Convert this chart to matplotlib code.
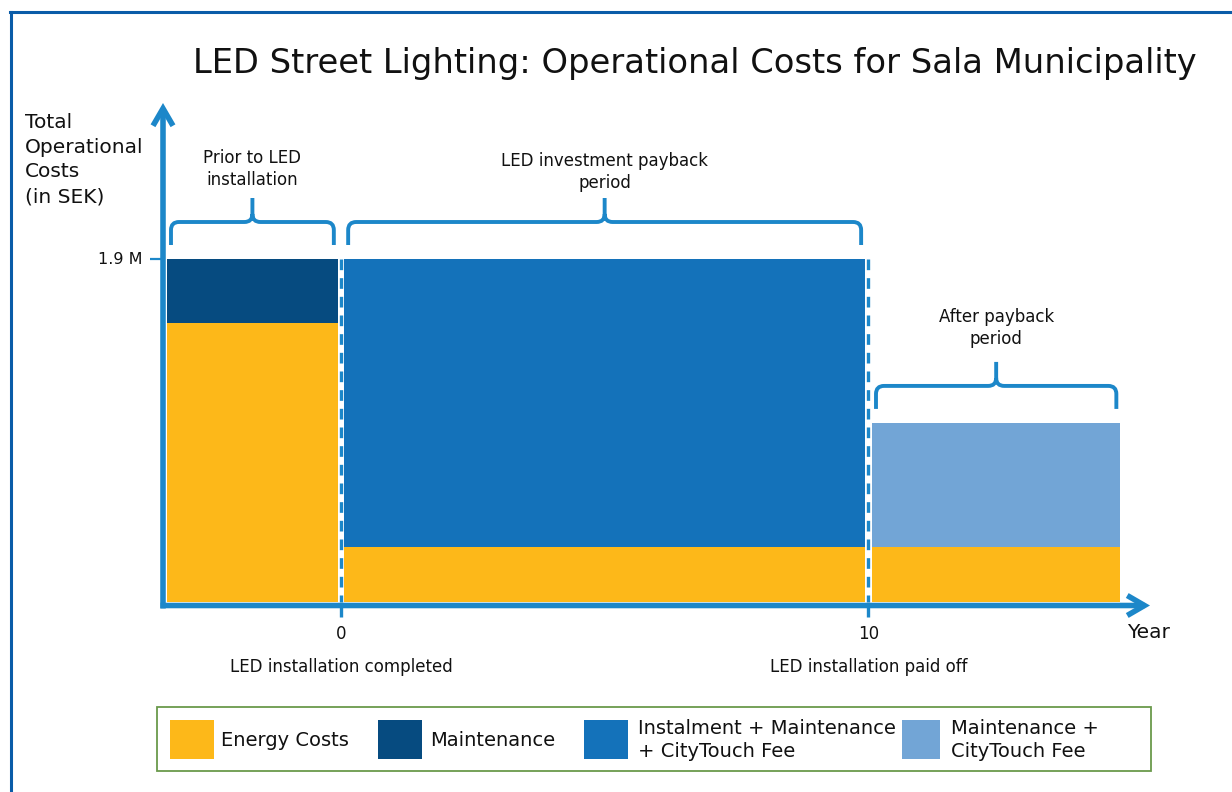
import matplotlib
matplotlib.use("Agg")
import matplotlib.pyplot as plt
import matplotlib.transforms as mtransforms
from matplotlib.path import Path
from matplotlib.patches import PathPatch, Rectangle
from matplotlib.lines import Line2D

# ---------------- data ----------------
periods = ["Prior to LED\ninstallation", "LED investment payback\nperiod", "After payback\nperiod"]
period_start = [-3.30, 0.06, 10.07]   # years
period_end = [-0.06, 9.94, 14.78]     # years
energy_costs = [1.546, 0.305, 0.305]  # M SEK
other_costs = [0.354, 1.595, 0.687]   # M SEK
milestone_years = [0, 10]
milestone_labels = ["LED installation completed", "LED installation paid off"]
ytick_value = 1.9
ytick_label = "1.9 M"
legend_labels = ["Energy Costs", "Maintenance",
                 "Instalment + Maintenance\n+ CityTouch Fee", "Maintenance +\nCityTouch Fee"]

# ---------------- style ----------------
ENERGY = "#FDB819"
MAINT = "#064B80"
INSTAL = "#1472BA"
AFTER = "#72A5D6"
AXBLUE = "#1C87C9"
BORDER = "#0A5CA8"
LEGEDGE = "#6A9A4B"
TXT = "#111111"
other_colors = [MAINT, INSTAL, AFTER]
legend_colors = [ENERGY, MAINT, INSTAL, AFTER]

plt.rcParams["font.family"] = ["DejaVu Sans"]

W, H, DPI = 1232, 792, 100
fig = plt.figure(figsize=(W / DPI, H / DPI), dpi=DPI)
ax = fig.add_axes([0, 0, 1, 1])

# pixel calibration of the data scale
X0_PX, X10_PX = 341.0, 868.3
Y0_PX, YTOP_PX = 602.0, 259.0
ppy = (X10_PX - X0_PX) / 10.0
ppm = (Y0_PX - YTOP_PX) / ytick_value
ax.set_xlim(-X0_PX / ppy, (W - X0_PX) / ppy)
ax.set_ylim((Y0_PX - H) / ppm, Y0_PX / ppm)
ax.axis("off")

# figure-pixel transform (origin top-left)
pxT = mtransforms.Affine2D().scale(1 / W, -1 / H).translate(0, 1) + fig.transFigure

# ---------------- bars ----------------
widths = [e - s for s, e in zip(period_start, period_end)]
ax.bar(period_start, energy_costs, width=widths, align="edge", color=ENERGY, zorder=2, linewidth=0)
ax.bar(period_start, other_costs, width=widths, bottom=energy_costs, align="edge",
       color=other_colors, zorder=2, linewidth=0)

# ---------------- axes with arrows ----------------
x_axis_x = (163 - X0_PX) / ppy
x_axis_y = -3.5 / ppm
x_tip = (1150 - X0_PX) / ppy
y_tip = (Y0_PX - 103) / ppm
arrowstyle = "->,head_length=0.62,head_width=0.36"
ax.annotate("", xy=(x_tip, x_axis_y), xytext=(x_axis_x - 2.5 / ppy, x_axis_y),
            arrowprops=dict(arrowstyle=arrowstyle, lw=4.0, color=AXBLUE, shrinkA=0, shrinkB=0,
                            mutation_scale=20, joinstyle="miter", capstyle="butt"), zorder=5)
ax.annotate("", xy=(x_axis_x, y_tip), xytext=(x_axis_x, x_axis_y - 3 / ppm),
            arrowprops=dict(arrowstyle=arrowstyle, lw=4.0, color=AXBLUE, shrinkA=0, shrinkB=0,
                            mutation_scale=20, joinstyle="miter", capstyle="butt"), zorder=5)

# y tick
ax.plot([x_axis_x - 13 / ppy, x_axis_x], [ytick_value, ytick_value], color=AXBLUE, lw=1.6,
        solid_capstyle="butt", zorder=4)
ax.annotate(ytick_label, xy=(x_axis_x, ytick_value), xytext=(-15, 0), textcoords="offset points",
            ha="right", va="center", fontsize=11.5, color=TXT)

# milestones: dashed separators, ticks and labels
for yr, lab in zip(milestone_years, milestone_labels):
    ax.plot([yr, yr], [ytick_value, 0], color=AXBLUE, lw=2.4, ls=(0, (3.2, 2.4)), zorder=4,
            solid_capstyle="butt", dash_capstyle="butt")
    ax.plot([yr, yr], [x_axis_y, x_axis_y - 11 / ppm], color=AXBLUE, lw=2.4,
            solid_capstyle="butt", zorder=4)
    ax.text(yr, (Y0_PX - 634) / ppm, str(yr), ha="center", va="center", fontsize=12, color=TXT)
    ax.text(yr, (Y0_PX - 667) / ppm, lab, ha="center", va="center", fontsize=12, color=TXT)

ax.text((1127 - X0_PX) / ppy, (Y0_PX - 633) / ppm, "Year", ha="left", va="center",
        fontsize=14.5, color=TXT)

# ---------------- curly brackets ----------------
label_pad_px = [9, 6, 14]
for s, e, tot_e, tot_o, lab, pad in zip(period_start, period_end, energy_costs, other_costs,
                                        periods, label_pad_px):
    top = tot_e + tot_o
    inset = 4 / ppy
    x0, x1 = s + inset, e - inset
    xc = (x0 + x1) / 2
    y_end = top + 14 / ppm
    y_h = top + 37 / ppm
    y_s = top + 61 / ppm
    rx, ry = 8 / ppy, 8 / ppm
    verts = [(x0, y_end), (x0, y_h - ry), (x0, y_h), (x0 + rx, y_h),
             (xc - rx, y_h), (xc, y_h), (xc, y_h + ry), (xc, y_s),
             (xc, y_h + ry), (xc, y_h), (xc + rx, y_h),
             (x1 - rx, y_h), (x1, y_h), (x1, y_h - ry), (x1, y_end)]
    codes = [Path.MOVETO, Path.LINETO, Path.CURVE3, Path.CURVE3,
             Path.LINETO, Path.CURVE3, Path.CURVE3, Path.LINETO,
             Path.MOVETO, Path.CURVE3, Path.CURVE3,
             Path.LINETO, Path.CURVE3, Path.CURVE3, Path.LINETO]
    ax.add_patch(PathPatch(Path(verts, codes), fill=False, edgecolor=AXBLUE, lw=2.8,
                           capstyle="butt", joinstyle="round", zorder=4))
    ax.annotate(lab, xy=(xc, y_s), xytext=(0, pad / 1.389), textcoords="offset points",
                ha="center", va="bottom", fontsize=12, color=TXT, linespacing=1.3)

# ---------------- titles ----------------
fig.text(695 / W, 1 - 63 / H, "LED Street Lighting: Operational Costs for Sala Municipality",
         ha="center", va="center", fontsize=24.3, color=TXT)
fig.text(25 / W, 1 - 113 / H, "Total\nOperational\nCosts\n(in SEK)", ha="left", va="top",
         fontsize=14.5, color=TXT, linespacing=1.38)

# ---------------- border ----------------
fig.add_artist(Line2D([10, W], [11.5, 11.5], transform=pxT, color=BORDER, lw=2.2))
fig.add_artist(Line2D([11, 11], [11.5, H], transform=pxT, color=BORDER, lw=2.2))

# ---------------- legend ----------------
fig.add_artist(Rectangle((157, 707), 994, 64, transform=pxT, fill=False,
                         edgecolor=LEGEDGE, lw=1.3))
patch_x = [170, 378, 584, 902]
patch_w = [44, 44, 44, 38]
text_x = [221, 430, 638, 951]
for px, pw, tx, col, lab in zip(patch_x, patch_w, text_x, legend_colors, legend_labels):
    fig.add_artist(Rectangle((px, 720), pw, 39, transform=pxT, facecolor=col, edgecolor="none"))
    fig.text(tx / W, 1 - 740 / H, lab, ha="left", va="center", fontsize=14, color=TXT,
             linespacing=1.3)

fig.savefig("out.png", dpi=DPI, facecolor="white")
